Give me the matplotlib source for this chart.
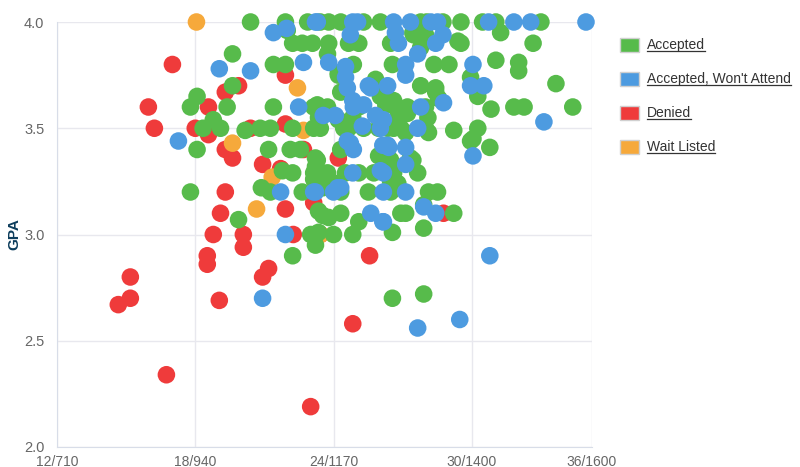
import matplotlib
matplotlib.use("Agg")
import matplotlib.pyplot as plt
from matplotlib.patches import Rectangle
from matplotlib.lines import Line2D

plt.rcParams["font.family"] = ["Liberation Sans", "DejaVu Sans"]

# x = SAT score (ACT/SAT axis), y = GPA
acc_sat = [1032, 1090, 1127, 1148, 1162, 1182, 1220, 1248, 1315, 1325, 1352, 1382, 1418, 1440, 1515, 1093,
           1302, 1320, 1448, 1102, 1118, 1135, 1162, 1195, 1212, 1265, 1382, 1502, 1303, 1323, 1377,
           1002, 1160, 1315,
           1070, 1090, 1203, 1268, 1337, 1362, 1440, 1478, 1478, 1178,
           1178, 1240, 1398, 1002, 1315, 1340, 1540, 1182, 1245, 1340, 943, 1248, 1410, 1270, 1345,
           932, 993, 1070, 1137, 1160, 1212, 1257, 1273, 1293, 1323, 1432, 1470, 1487, 1568, 970, 1145,
           1178, 1202, 1277, 1293, 1327, 1143,
           953, 982, 1023, 1048, 1065, 1102, 1137, 1148, 1187, 1195, 1220, 1245, 1260, 1270, 1282, 1290,
           1323, 1328, 1370, 1410, 1402, 1398,
           943, 1062, 1098, 1115, 1182, 1245, 1430, 1140, 1257, 1298, 1302, 1265, 1143,
           1140, 1085, 1102, 1137, 1160, 1190, 1212, 1237, 1265, 1310, 1270, 1137, 1173, 1268, 1277, 1265,
           932, 1050, 1065, 1118, 1152, 1170, 1182, 1228, 1265, 1328, 1343,
           1012, 1145, 1152, 1162, 1182, 1212, 1282, 1290, 1320, 1370, 1320,
           1132, 1145, 1170, 1202, 1268, 1140, 1102,
           1268, 1320]
acc_gpa = [4.0, 4.0, 4.0, 4.0, 4.0, 4.0, 4.0, 4.0, 4.0, 4.0, 4.0, 4.0, 4.0, 4.0, 4.0, 3.96,
           3.95, 3.95, 3.95, 3.90, 3.90, 3.90, 3.90, 3.90, 3.90, 3.90, 3.90, 3.90, 3.94, 3.94, 3.91,
           3.85, 3.85, 3.88,
           3.80, 3.80, 3.80, 3.80, 3.80, 3.80, 3.82, 3.81, 3.77, 3.76,
           3.75, 3.73, 3.74, 3.70, 3.70, 3.69, 3.71, 3.67, 3.69, 3.67, 3.65, 3.65, 3.65, 3.63, 3.64,
           3.60, 3.60, 3.60, 3.60, 3.60, 3.60, 3.61, 3.60, 3.60, 3.60, 3.59, 3.60, 3.60, 3.60, 3.54, 3.55,
           3.54, 3.55, 3.55, 3.57, 3.55, 3.61,
           3.50, 3.50, 3.49, 3.50, 3.50, 3.50, 3.50, 3.50, 3.50, 3.50, 3.50, 3.50, 3.50, 3.50, 3.50, 3.48,
           3.50, 3.48, 3.49, 3.50, 3.45, 3.44,
           3.40, 3.40, 3.40, 3.40, 3.40, 3.37, 3.41, 3.36, 3.36, 3.36, 3.35, 3.35, 3.35,
           3.32, 3.30, 3.29, 3.29, 3.29, 3.29, 3.29, 3.29, 3.30, 3.29, 3.29, 3.26, 3.24, 3.27, 3.24, 3.25,
           3.20, 3.22, 3.20, 3.20, 3.22, 3.24, 3.20, 3.20, 3.20, 3.20, 3.20,
           3.07, 3.11, 3.09, 3.08, 3.10, 3.06, 3.10, 3.10, 3.14, 3.10, 3.03,
           3.00, 3.01, 3.00, 3.00, 3.01, 2.95, 2.90,
           2.70, 2.72]

wna_sat = [912, 980, 1032, 1070, 1092, 1120, 1112, 1140, 1143, 1162, 1190, 1190, 1193, 1202, 1210, 1198,
           1202, 1203, 1232, 1218, 1193, 1203, 1252, 1262, 1202, 1248, 1137, 1170, 1182, 1082, 1232, 1252,
           1090, 1052, 1430, 1380, 1310,
           1270, 1298, 1332, 1343, 1428, 1470, 1498, 1590, 1273, 1278, 1340, 1352, 1310, 1290, 1290, 1402,
           1398, 1420, 1260, 1228, 1315, 1353, 1520, 1253, 1310, 1248, 1153, 1173, 1220, 1240, 1260, 1290,
           1290, 1253, 1253, 1290, 1402, 1320, 1340, 1253, 1140, 1177, 1198]
wna_gpa = [3.44, 3.78, 3.77, 3.95, 3.97, 3.81, 3.60, 4.00, 4.00, 3.81, 3.79, 3.74, 3.69, 4.00, 4.00, 3.94,
           3.63, 3.60, 3.69, 3.51, 3.44, 3.40, 3.42, 3.41, 3.29, 3.30, 3.20, 3.20, 3.22, 3.20, 3.10, 3.06,
           3.00, 2.70, 2.90, 2.60, 2.56,
           4.00, 4.00, 4.00, 4.00, 4.00, 4.00, 4.00, 4.00, 3.95, 3.90, 3.90, 3.94, 3.85, 3.80, 3.75, 3.80,
           3.70, 3.70, 3.70, 3.70, 3.60, 3.62, 3.53, 3.54, 3.50, 3.50, 3.56, 3.56, 3.61, 3.56, 3.42, 3.41,
           3.33, 3.29, 3.20, 3.20, 3.37, 3.13, 3.10, 3.06, 3.20, 3.22, 3.43]

den_sat = [812, 832, 832, 862, 872, 902, 892, 940, 962, 962, 990, 1012, 990, 1002, 1032, 1052, 1082,
           1090, 1090, 1120, 1137, 1090, 990, 982, 970, 1020, 1020, 960, 960, 980, 1052, 1062, 1103,
           1148, 1178, 1353, 1230, 1202, 1132]
den_gpa = [2.67, 2.70, 2.80, 3.60, 3.50, 3.80, 2.34, 3.50, 3.60, 3.47, 3.67, 3.70, 3.40, 3.36, 3.50, 3.33,
           3.31, 3.75, 3.52, 3.40, 3.15, 3.12, 3.20, 3.10, 3.00, 3.00, 2.94, 2.90, 2.86, 2.69, 2.80, 2.84,
           3.00, 3.00, 3.36, 3.10, 2.90, 2.58, 2.19]

wl_sat = [942, 1110, 1002, 1068, 1042, 1120, 1148]
wl_gpa = [4.00, 3.69, 3.43, 3.27, 3.12, 3.49, 3.00]

x_ticks = [710, 940, 1170, 1400, 1600]
x_labels = ["12/710", "18/940", "24/1170", "30/1400", "36/1600"]
y_ticks = [2.0, 2.5, 3.0, 3.5, 4.0]

series = [
    ("Denied", den_sat, den_gpa, "#ef3b3b"),
    ("Wait Listed", wl_sat, wl_gpa, "#f6a93b"),
    ("Accepted", acc_sat, acc_gpa, "#57bb4b"),
    ("Accepted, Won't Attend", wna_sat, wna_gpa, "#4d9be0"),
]
legend_order = ["Accepted", "Accepted, Won't Attend", "Denied", "Wait Listed"]
colors = {name: c for name, _, _, c in series}

fig = plt.figure(figsize=(8, 4.67), dpi=100)
ax = fig.add_axes([57 / 800, 20 / 467, 535 / 800, 425 / 467])

for name, xs, ys, c in series:
    ax.scatter(xs, ys, s=160, color=c, edgecolors="none", clip_on=False, zorder=3)

ax.set_xlim(710, 1600)
ax.set_ylim(2.0, 4.0)
ax.set_xticks(x_ticks)
ax.set_xticklabels(x_labels)
ax.set_yticks(y_ticks)
ax.set_yticklabels([f"{v:.1f}" for v in y_ticks])
ax.tick_params(axis="x", length=0, labelsize=10, labelcolor="#666666", pad=5.5)
ax.tick_params(axis="y", length=0, labelsize=10.5, labelcolor="#666666", pad=9)
ax.grid(True, color="#e8e8ee", linewidth=1)
ax.set_axisbelow(True)
for side in ["top", "right"]:
    ax.spines[side].set_visible(False)
for side in ["left", "bottom"]:
    ax.spines[side].set_color("#d8dde8")
ax.set_ylabel("GPA", fontsize=11, fontweight="bold", color="#0d3d5c")
ax.yaxis.set_label_coords(-0.066, 0.5)

# legend with underlined labels
leg_y = [45, 79, 113, 147]
fig.canvas.draw()
renderer = fig.canvas.get_renderer()
for name, py in zip(legend_order, leg_y):
    fy = 1 - py / 467
    fig.patches.append(Rectangle((620 / 800, fy - 7 / 467), 19 / 800, 14 / 467,
                                 transform=fig.transFigure, facecolor=colors[name],
                                 edgecolor="#d0d0d0", linewidth=1))
    t = fig.text(647 / 800, fy, name, fontsize=10, color="#333333", va="center", ha="left")
    bb = t.get_window_extent(renderer).transformed(fig.transFigure.inverted())
    fig.lines.append(Line2D([bb.x0, bb.x1], [bb.y0 + 0.003, bb.y0 + 0.003],
                            transform=fig.transFigure, color="#333333", linewidth=0.9))

fig.savefig("out.png", dpi=100)
